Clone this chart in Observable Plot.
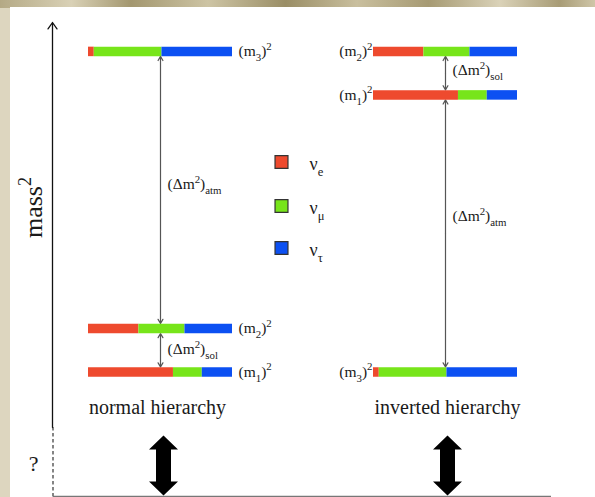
<!DOCTYPE html>
<html>
<head>
<meta charset="utf-8">
<script src="https://cdn.jsdelivr.net/npm/d3@7"></script>
<script src="https://cdn.jsdelivr.net/npm/@observablehq/plot@0.6"></script>
<style>
  html, body { margin: 0; padding: 0; }
  #wrap { position: relative; width: 595px; height: 497px; overflow: hidden;
    background: #ddd6bf; }
  #topband { position: absolute; left: 0; top: 0; width: 595px; height: 8px;
    background: linear-gradient(to right, #b4a985 0%, #d9d1b6 12%, #a3976f 22%, #cdc4a4 35%, #9a8e66 48%, #c9bf9e 60%, #a69a73 72%, #dad2b8 84%, #a89c76 94%, #cfc6a8 100%); }
  #panel { position: absolute; left: 10px; top: 7px; right: 0; bottom: 0; background: #ffffff; }
  #chart { position: absolute; left: 0; top: 0; }
  #chart text { font-family: "Liberation Serif", "Times New Roman", serif; }
</style>
</head>
<body>
<div id="wrap"><div id="topband"></div><div id="panel"></div><div id="chart"></div></div>
<script>
// ---------------- data ----------------
const states = ["m1", "m2", "m3"];
const hierarchies = ["normal hierarchy", "inverted hierarchy"];
// mass² level of each state (arbitrary units, m1 normal = 0, Δm²_sol = 1)
const normalLevels = [0, 1, 7.37];
const invertedLevels = [6.37, 7.37, 0];
// flavour content of each mass state (m1, m2, m3)
const flavorNames = ["ν_{e}", "ν_{μ}", "ν_{τ}"];
const flavorColors = ["#ee4a2e", "#77e51a", "#0c50f2"];
const nuE   = [0.59, 0.35, 0.04];
const nuMu  = [0.20, 0.32, 0.47];
const nuTau = [0.21, 0.33, 0.49];
const stateLabels = ["(m_{1})^{2}", "(m_{2})^{2}", "(m_{3})^{2}"];

// ---------------- layout ----------------
const W = 595, H = 497;
const XR = [88, 232], YR = [371.5, 328];
const px2x = p => (p - XR[0]) / (XR[1] - XR[0]);
const px2y = p => (YR[0] - p) / (YR[0] - YR[1]);
const offsets = [0, px2x(373)];
const levelsByH = [normalLevels, invertedLevels];
const fractions = [nuE, nuMu, nuTau];
const FONT = '"Liberation Serif", "Times New Roman", serif';

const segments = [];
hierarchies.forEach((h, hi) => {
  states.forEach((s, si) => {
    let acc = 0;
    fractions.forEach((fr, fi) => {
      segments.push({h, s, flavor: flavorNames[fi], color: flavorColors[fi],
        x1: offsets[hi] + acc, x2: offsets[hi] + acc + fr[si], y: levelsByH[hi][si]});
      acc += fr[si];
    });
  });
});

const normalLabels = states.map((s, i) => ({x: offsets[0] + 1, y: normalLevels[i], text: stateLabels[i]}));
const invertedLabels = states.map((s, i) => ({x: offsets[1], y: invertedLevels[i], text: stateLabels[i]}));

const splits = [
  {hi: 0, from: 0, to: 1, name: "(Δm^{2})_{sol}", ly: px2y(349)},
  {hi: 0, from: 1, to: 2, name: "(Δm^{2})_{atm}", ly: px2y(184)},
  {hi: 1, from: 0, to: 1, name: "(Δm^{2})_{sol}", ly: px2y(70)},
  {hi: 1, from: 2, to: 0, name: "(Δm^{2})_{atm}", ly: px2y(216)}
];
const halfArrows = [];
splits.forEach(d => {
  const lv = levelsByH[d.hi];
  const a = lv[d.from], b = lv[d.to], m = (a + b) / 2, x = offsets[d.hi] + 0.5;
  halfArrows.push({x, y1: m, y2: a}, {x, y1: m, y2: b});
});
const splitLabels = splits.map(d => ({x: offsets[d.hi] + 0.5, y: d.ly, text: d.name}));

const legend = flavorNames.map((f, i) => ({x: px2x(281), y: px2y([161.5, 205.5, 247.5][i]),
  ty: px2y([164, 208, 250][i]), color: flavorColors[i], text: f}));

const bigArrowSymbol = {
  draw(ctx) {
    ctx.moveTo(0, -30); ctx.lineTo(14.5, -16); ctx.lineTo(7.5, -16); ctx.lineTo(7.5, 16);
    ctx.lineTo(14.5, 16); ctx.lineTo(0, 30); ctx.lineTo(-14.5, 16); ctx.lineTo(-7.5, 16);
    ctx.lineTo(-7.5, -16); ctx.lineTo(-14.5, -16); ctx.closePath();
  }
};
const bigArrows = [{x: px2x(163), y: px2y(465)}, {x: px2x(447), y: px2y(465)}];
const titles = [{x: px2x(157), y: px2y(407), text: hierarchies[0]}, {x: px2x(447), y: px2y(407), text: hierarchies[1]}];

const chart = Plot.plot({
  width: W, height: H, margin: 0,
  style: {background: "transparent", fontFamily: FONT, color: "#1a1a1a"},
  x: {domain: [0, 1], range: XR, axis: null},
  y: {domain: [0, 1], range: YR, axis: null},
  marks: [
    Plot.arrow([{x: px2x(52), y1: px2y(427), y2: px2y(22)}], {x: "x", y1: "y1", y2: "y2", stroke: "#111", strokeWidth: 1.3, headLength: 9, headAngle: 70}),
    Plot.ruleX([{x: px2x(52.5)}], {x: "x", y1: px2y(427), y2: px2y(497), stroke: "#222", strokeWidth: 1.1, strokeDasharray: "3.5,2.5"}),
    Plot.ruleY([{y: px2y(496)}], {y: "y", x1: px2x(53), x2: px2x(551), stroke: "#777", strokeWidth: 1.5}),
    Plot.text(["mass^{2}"], {x: px2x(33), y: px2y(207), text: d => d, rotate: -90, fontSize: 26, fontFamily: FONT, textAnchor: "middle"}),
    Plot.text(["?"], {x: px2x(33), y: px2y(463), text: d => d, fontSize: 22, fontFamily: FONT}),
    Plot.arrow(halfArrows, {x: "x", y1: "y1", y2: "y2", stroke: "#555", strokeWidth: 1.2, headLength: 6, headAngle: 60, insetEnd: 5}),
    Plot.ruleY(segments, {y: "y", x1: "x1", x2: "x2", stroke: "color", strokeWidth: 9.5}),
    Plot.text(normalLabels, {x: "x", y: "y", text: "text", textAnchor: "start", dx: 6, fontSize: 15.5, fontFamily: FONT}),
    Plot.text(invertedLabels, {x: "x", y: "y", text: "text", textAnchor: "end", dx: -1, fontSize: 15.5, fontFamily: FONT}),
    Plot.text(splitLabels, {x: "x", y: "y", text: "text", textAnchor: "start", dx: 7, fontSize: 15.5, fontFamily: FONT}),
    Plot.dot(legend, {x: "x", y: "y", symbol: "square", r: 7.3, fill: "color", stroke: "#333", strokeWidth: 1.2}),
    Plot.text(legend, {x: d => d.x, y: "ty", text: "text", textAnchor: "start", dx: 28, fontSize: 18, fontFamily: FONT}),
    Plot.text(titles, {x: "x", y: "y", text: "text", fontSize: 20, fontFamily: FONT}),
    Plot.dot(bigArrows, {x: "x", y: "y", symbol: bigArrowSymbol, fill: "#000", r: 5})
  ]
});

chart.querySelectorAll("text").forEach(t => {
  const s = t.textContent;
  if (!/[_^]\{/.test(s)) return;
  const fsAttr = t.closest("[font-size]");
  const fs = fsAttr ? parseFloat(fsAttr.getAttribute("font-size")) : 13;
  while (t.firstChild) t.removeChild(t.firstChild);
  const re = /([_^])\{([^}]*)\}/g;
  let last = 0, m, shift = 0;
  const add = (str, kind) => {
    if (!str) return;
    const ts = document.createElementNS("http://www.w3.org/2000/svg", "tspan");
    let target = kind === "_" ? 0.3 * fs : kind === "^" ? -0.42 * fs : 0;
    ts.setAttribute("dy", (target - shift).toFixed(2));
    shift = target;
    if (kind) ts.setAttribute("font-size", (fs * 0.7).toFixed(2));
    ts.textContent = str;
    t.appendChild(ts);
  };
  while ((m = re.exec(s))) {
    add(s.slice(last, m.index), null);
    add(m[2], m[1]);
    last = re.lastIndex;
  }
  add(s.slice(last), null);
});

document.getElementById("chart").appendChild(chart);
</script>
</body>
</html>
